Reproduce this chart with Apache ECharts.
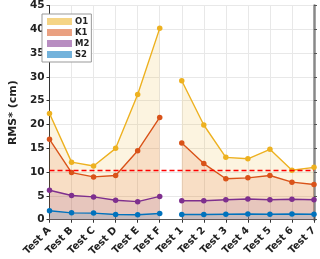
<!DOCTYPE html>
<html><head><meta charset="utf-8">
<script src="https://cdn.jsdelivr.net/npm/echarts@6/dist/echarts.min.js"></script>
<style>html,body{margin:0;padding:0;background:#fff}#c{width:320px;height:259px}</style>
</head><body><div id="c"></div>
<script>
const categories = ['Test A','Test B','Test C','Test D','Test E','Test F','Test 1','Test 2','Test 3','Test 4','Test 5','Test 6','Test 7'];
const leftCount = 6;
const O1 = [22.3, 12.1, 11.3, 15.0, 26.3, 40.2, 29.2, 19.9, 13.1, 12.8, 14.8, 10.4, 11.0];
const K1 = [16.9, 9.9, 9.0, 9.3, 14.5, 21.5, 16.1, 11.8, 8.6, 8.8, 9.3, 7.9, 7.4];
const M2 = [6.2, 5.1, 4.8, 4.1, 3.8, 4.9, 4.0, 4.0, 4.2, 4.35, 4.2, 4.3, 4.2];
const S2 = [1.9, 1.45, 1.4, 1.1, 1.05, 1.3, 1.1, 1.1, 1.15, 1.2, 1.15, 1.2, 1.15];
const threshold = 10.35;
const yTicks = [0, 5, 10, 15, 20, 25, 30, 35, 40, 45];

const consts = [
  {name:'O1', data:O1, color:'#EDB120', rgb:'237,177,32'},
  {name:'K1', data:K1, color:'#D95319', rgb:'217,83,25'},
  {name:'M2', data:M2, color:'#7E2F8E', rgb:'126,47,142'},
  {name:'S2', data:S2, color:'#0072BD', rgb:'0,114,189'}
];
const font = 'DejaVu Sans';
const series = [];
consts.forEach((c, i) => {
  const left = c.data.map((v, j) => j < leftCount ? v : null);
  const right = c.data.map((v, j) => j >= leftCount ? v : null);
  [left, right].forEach((d) => {
    series.push({
      name: c.name, type: 'line', data: d, connectNulls: false,
      symbol: 'circle', symbolSize: 5.5, showSymbol: true,
      itemStyle: {color: c.color},
      lineStyle: {color: c.color, width: 1.4},
      areaStyle: {color: 'rgba(' + c.rgb + ',0.2)', origin: 0},
      z: 2 + i, animation: false
    });
  });
});
series.push({
  type: 'line', data: [], silent: true,
  markLine: {symbol: 'none', silent: true, label: {show: false},
    lineStyle: {color: '#ff0000', type: [5, 3], width: 1.3},
    data: [{yAxis: threshold}]},
  z: 10, animation: false
});

const chart = echarts.init(document.getElementById('c'), null, {renderer: 'canvas'});
chart.setOption({
  animation: false,
  grid: {left: 33, right: 6, top: 5.5, bottom: 37, containLabel: false},
  legend: {
    left: 42, top: 14, orient: 'vertical', icon: 'rect',
    itemWidth: 25, itemHeight: 7, itemGap: 2,
    padding: [3, 2, 3, 5],
    backgroundColor: '#fff', borderColor: '#999', borderWidth: 1, borderRadius: 0,
    textStyle: {fontFamily: font, fontWeight: 'bold', fontSize: 8.5, lineHeight: 8, color: '#222', padding: [0, 0, 0, -2]},
    data: consts.map(c => ({name: c.name, itemStyle: {color: 'rgba(' + c.rgb + ',0.55)', borderWidth: 0}, lineStyle: {opacity: 0}}))
  },
  xAxis: [{
    type: 'category', data: categories, boundaryGap: false,
    axisLine: {lineStyle: {color: '#333', width: 1}},
    axisTick: {show: true, length: 3, lineStyle: {color: '#333'}},
    axisLabel: {rotate: 45, fontFamily: font, fontWeight: 'bold', fontSize: 10, color: '#222', margin: 9, interval: 0, padding: [0, 0, 0, 0]},
    splitLine: {show: true, lineStyle: {color: '#e8e8e8', width: 1}}
  }, {
    type: 'category', data: categories, boundaryGap: false, position: 'top',
    axisLine: {lineStyle: {color: '#555', width: 1}},
    axisTick: {show: true, length: 3, inside: false, lineStyle: {color: '#555'}},
    axisLabel: {show: false}, splitLine: {show: false}
  }],
  yAxis: [{
    type: 'value', min: 0, max: 45, interval: 5,
    name: 'RMS* (cm)', nameLocation: 'middle', nameGap: 21,
    nameTextStyle: {fontFamily: font, fontWeight: 'bold', fontSize: 11, color: '#222'},
    axisLine: {show: true, lineStyle: {color: '#333', width: 1}},
    axisTick: {show: true, length: 3, lineStyle: {color: '#333'}},
    axisLabel: {fontFamily: font, fontWeight: 'bold', fontSize: 10.5, color: '#222', margin: 5,
      formatter: v => yTicks.includes(v) ? String(v) : ''},
    splitLine: {show: true, lineStyle: {color: '#e8e8e8', width: 1}}
  }, {
    type: 'value', min: 0, max: 45, interval: 5, position: 'right',
    axisLine: {show: true, lineStyle: {color: '#888', width: 2.5}},
    axisTick: {show: true, length: 3, lineStyle: {color: '#555'}},
    axisLabel: {show: false}, splitLine: {show: false}
  }],
  series: series
});
</script></body></html>
